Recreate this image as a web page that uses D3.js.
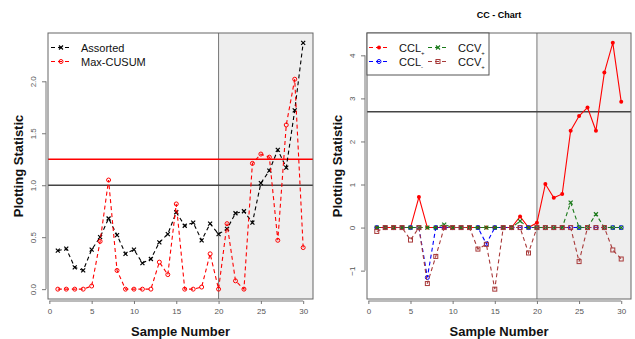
<!DOCTYPE html>
<html>
<head>
<meta charset="utf-8">
<script src="https://cdn.jsdelivr.net/npm/d3@7"></script>
<style>
  body { margin: 0; background: #fff; }
  svg { font-family: Arial, "Liberation Sans", sans-serif; display: block; }
  .tick text { fill: #555; font-size: 8px; }
  .axis-title { font-weight: bold; font-size: 13px; fill: #111; }
</style>
</head>
<body>
<div id="chart"></div>
<script>
// Data
const samples = d3.range(1, 31);

const assorted = [0.37, 0.39, 0.21, 0.18, 0.38, 0.50, 0.68, 0.52, 0.34, 0.38,
                  0.25, 0.29, 0.45, 0.53, 0.74, 0.61, 0.64, 0.47, 0.63, 0.53,
                  0.58, 0.73, 0.75, 0.64, 1.02, 1.14, 1.34, 1.17, 1.72, 2.37];
const maxCusum = [0, 0, 0, 0, 0.03, 0.46, 1.05, 0.18, 0, 0,
                  0, 0, 0.26, 0.14, 0.82, 0, 0, 0.02, 0.34, 0,
                  0.63, 0.08, 0, 1.21, 1.30, 1.27, 0.47, 1.58, 2.02, 0.40];

const cclPlus  = [0, 0, 0, 0, 0, 0.71, 0, 0, 0, 0,
                  0, 0, 0, 0, 0, 0, 0, 0.26, 0, 0.11,
                  1.01, 0.69, 0.78, 2.25, 2.59, 2.79, 2.25, 3.60, 4.29, 2.92];
const cclMinus = [0, 0, 0, 0, 0, 0, -1.16, 0, 0, 0,
                  0, 0, 0, -0.38, 0, 0, 0, 0, 0, 0,
                  0, 0, 0, 0, 0, 0, 0, 0, 0, 0];
const ccvPlus  = [0, 0, 0, 0, 0, 0, 0, 0, 0.07, 0,
                  0, 0, 0, 0, 0, 0, 0, 0.15, 0, 0,
                  0, 0, 0, 0.58, 0, 0, 0.31, 0, 0, 0];
const ccvMinus = [-0.09, 0, 0, 0, -0.29, 0, -1.30, -0.67, 0, 0,
                  0, 0, -0.50, -0.39, -1.43, 0, 0, 0, -0.59, 0,
                  0, 0, 0, 0, -0.79, 0, 0, 0, -0.52, -0.73];

const xTicks = [0, 5, 10, 15, 20, 25, 30];
const leftYTicks = [0, 0.5, 1, 1.5, 2];
const rightYTicks = [-1, 0, 1, 2, 3, 4];
const shiftStart = 20;

// Constants
const width = 635;
const height = 339;
const red = "#ff0000";
const blue = "#0000ff";
const green = "#1a7a1a";
const brown = "#a83a3a";

const svg = d3.select("#chart")
  .append("svg")
    .attr("width", width)
    .attr("height", height);

// Symbol drawing helper
const drawMarker = (g, type, x, y, color) => {
  if (type === "cross") {
    g.append("path")
      .attr("d", `M${x - 2},${y - 2}L${x + 2},${y + 2}M${x - 2},${y + 2}L${x + 2},${y - 2}`)
      .attr("stroke", color).attr("stroke-width", 1.2);
  } else if (type === "open") {
    g.append("circle").attr("cx", x).attr("cy", y).attr("r", 2)
      .attr("fill", "none").attr("stroke", color).attr("stroke-width", 1);
  } else if (type === "filled") {
    g.append("circle").attr("cx", x).attr("cy", y).attr("r", 2)
      .attr("fill", color);
  } else if (type === "square") {
    g.append("rect").attr("x", x - 2).attr("y", y - 2)
      .attr("width", 4).attr("height", 4)
      .attr("fill", "none").attr("stroke", color).attr("stroke-width", 1);
  }
};

// Panel drawing
const drawPanel = (cfg) => {
  const { left, right, top, bottom } = cfg.box;
  const innerWidth = right - left;
  const innerHeight = bottom - top;

  const g = svg.append("g").attr("transform", `translate(${left}, ${top})`);

  // Scales with R-style 4% padding
  const xPad = (d3.max(samples) - d3.min(samples)) * 0.04;
  const xScale = d3.scaleLinear()
    .domain([d3.min(samples) - xPad, d3.max(samples) + xPad])
    .range([0, innerWidth]);
  const allY = cfg.series.flatMap(s => s.values);
  const yMin = d3.min(allY), yMax = d3.max(allY);
  const yPad = (yMax - yMin) * 0.04;
  const yScale = d3.scaleLinear()
    .domain([yMin - yPad, yMax + yPad])
    .range([innerHeight, 0]);

  // Shaded out-of-control region
  g.append("rect")
    .attr("x", xScale(shiftStart))
    .attr("y", 0)
    .attr("width", innerWidth - xScale(shiftStart))
    .attr("height", innerHeight)
    .attr("fill", "#eeeeee");
  g.append("line")
    .attr("x1", xScale(shiftStart)).attr("x2", xScale(shiftStart))
    .attr("y1", 0).attr("y2", innerHeight)
    .attr("stroke", "#777").attr("stroke-width", 1);

  // Control limits
  cfg.limits.forEach(l => {
    g.append("line")
      .attr("x1", 0).attr("x2", innerWidth)
      .attr("y1", yScale(l.value)).attr("y2", yScale(l.value))
      .attr("stroke", l.color).attr("stroke-width", 1.3);
  });

  // Series
  cfg.series.forEach(s => {
    const line = d3.line()
      .x((d, i) => xScale(samples[i]))
      .y(d => yScale(d));
    g.append("path")
      .attr("d", line(s.values))
      .attr("fill", "none")
      .attr("stroke", s.color)
      .attr("stroke-width", 1.1)
      .attr("stroke-dasharray", s.dashed ? "4,3" : null);
    s.values.forEach((v, i) => drawMarker(g, s.marker, xScale(samples[i]), yScale(v), s.color));
  });

  // Box
  g.append("rect")
    .attr("width", innerWidth).attr("height", innerHeight)
    .attr("fill", "none").attr("stroke", "#666").attr("stroke-width", 1);

  // Bottom axis
  const bottomAxis = d3.axisBottom(xScale)
    .tickValues(xTicks)
    .tickSize(3)
    .tickSizeOuter(0);
  const xAxisG = g.append("g")
    .attr("transform", `translate(0, ${innerHeight + 2})`)
    .call(bottomAxis);
  xAxisG.select(".domain").remove();
  xAxisG.selectAll(".tick line").attr("stroke", "#777");
  xAxisG.selectAll(".tick text").attr("y", 7);
  xAxisG.append("line")
    .attr("x1", xScale(xTicks[0])).attr("x2", xScale(xTicks[xTicks.length - 1]))
    .attr("stroke", "#777");

  // Left axis
  const leftAxis = d3.axisLeft(yScale)
    .tickValues(cfg.yTicks)
    .tickFormat(cfg.yFormat)
    .tickSize(4)
    .tickSizeOuter(0);
  const yAxisG = g.append("g")
    .attr("transform", "translate(-2, 0)")
    .call(leftAxis);
  yAxisG.select(".domain").remove();
  yAxisG.selectAll(".tick line").attr("stroke", "#777");
  yAxisG.selectAll(".tick text")
    .attr("x", 0).attr("dy", 0).attr("y", 0)
    .attr("text-anchor", "middle")
    .attr("transform", "translate(-10, 0) rotate(-90)");
  yAxisG.append("line")
    .attr("y1", yScale(cfg.yTicks[0])).attr("y2", yScale(cfg.yTicks[cfg.yTicks.length - 1]))
    .attr("stroke", "#777");

  // Axis titles
  svg.append("text")
    .attr("class", "axis-title")
    .attr("x", left + innerWidth / 2)
    .attr("y", 336)
    .attr("text-anchor", "middle")
    .text("Sample Number");
  svg.append("text")
    .attr("class", "axis-title")
    .attr("transform", `translate(${left - 25}, ${top + innerHeight / 2}) rotate(-90)`)
    .attr("text-anchor", "middle")
    .text("Plotting Statistic");

  return { g, xScale, yScale };
};

// Left panel
const leftPanel = drawPanel({
  box: { left: 48, right: 313, top: 33, bottom: 299 },
  series: [
    { values: assorted, color: "#000", marker: "cross", dashed: true },
    { values: maxCusum, color: red, marker: "open", dashed: true }
  ],
  limits: [
    { value: 1.0, color: "#444" },
    { value: 1.25, color: red }
  ],
  yTicks: leftYTicks,
  yFormat: d3.format(".1f")
});

// Right panel
const rightPanel = drawPanel({
  box: { left: 367, right: 631, top: 33, bottom: 299 },
  series: [
    { values: cclPlus, color: red, marker: "filled", dashed: false },
    { values: cclMinus, color: blue, marker: "open", dashed: true },
    { values: ccvPlus, color: green, marker: "cross", dashed: true },
    { values: ccvMinus, color: brown, marker: "square", dashed: true }
  ],
  limits: [
    { value: 2.69, color: "#444" }
  ],
  yTicks: rightYTicks,
  yFormat: d3.format("d")
});

// Title
svg.append("text")
  .attr("x", 499)
  .attr("y", 18)
  .attr("text-anchor", "middle")
  .attr("font-weight", "bold")
  .attr("font-size", 9)
  .text("CC - Chart");

// Legends
const legendItem = (g, x, y, color, marker, label, sub) => {
  g.append("line")
    .attr("x1", x).attr("x2", x + 19)
    .attr("y1", y).attr("y2", y)
    .attr("stroke", color).attr("stroke-dasharray", "4,3").attr("stroke-width", 1);
  drawMarker(g, marker, x + 10, y, color);
  const t = g.append("text")
    .attr("x", x + 30).attr("y", y + 4)
    .attr("font-size", 11)
    .attr("fill", "#111")
    .text(label);
  if (sub) {
    t.append("tspan").attr("font-size", 6).attr("dy", 3).text(sub);
  }
};

const leftLegend = svg.append("g");
legendItem(leftLegend, 51, 47.5, "#000", "cross", "Assorted");
legendItem(leftLegend, 51, 61.5, red, "open", "Max-CUSUM");

const rightLegend = svg.append("g");
rightLegend.append("rect")
  .attr("x", 367).attr("y", 33)
  .attr("width", 122).attr("height", 42)
  .attr("fill", "#fff").attr("stroke", "#555");
legendItem(rightLegend, 369, 47.5, red, "filled", "CCL", "+");
legendItem(rightLegend, 369, 61.5, blue, "open", "CCL", "-");
legendItem(rightLegend, 428, 47.5, green, "cross", "CCV", "+");
legendItem(rightLegend, 428, 61.5, brown, "square", "CCV", "+");
</script>
</body>
</html>
